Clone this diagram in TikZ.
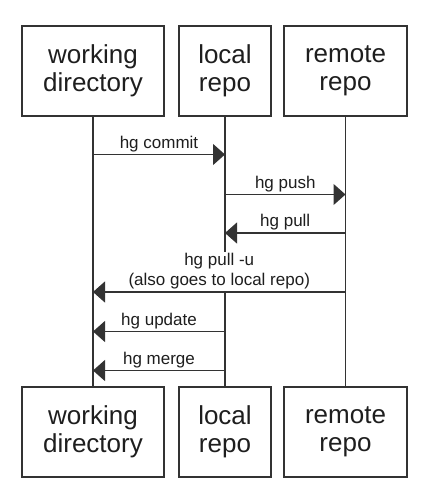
\documentclass[tikz,border=0pt]{standalone}
\usepackage{fontspec}
\setmainfont{Liberation Sans}
\usetikzlibrary{arrows.meta, positioning}
\definecolor{linegray}{RGB}{51,51,51}
\definecolor{textgray}{RGB}{30,30,30}

\begin{document}
\begin{tikzpicture}[x=1pt, y=1pt,
    repobox/.style={draw=linegray, line width=1.4pt, minimum height=90pt, inner sep=0pt, align=center, text=textgray, font=\fontsize{26}{28.5}\selectfont},
    lifeline/.style={draw=linegray, line width=1.2pt},
    msg/.style={lifeline, -{Triangle[length=12pt, width=21pt]}},
    msglabel/.style={above, fill=white, inner sep=2pt, align=center, text=textgray, font=\fontsize{17}{20}\selectfont}]
    % Define dimensions
    \def\toprow{-71}
    \def\bottomrow{-432}
    
    % Fix the canvas size
    \useasboundingbox (0,0) rectangle (435,-503);
    
    % Boxes in the top row and the bottom row
    \foreach \pos/\row in {top/\toprow, bot/\bottomrow} {
        \node[repobox, minimum width=142pt] (wd\pos) at (93,\row) {working\\directory};
        \node[repobox, minimum width=92pt] (lr\pos) at (225,\row) {local\\repo};
        \node[repobox, minimum width=123pt] (rr\pos) at (345.5,\row) {remote\\repo};
    }
    
    % Lifelines between the two rows
    \foreach \n in {wd, lr, rr}
        \draw[lifeline] (\n top.south) -- (\n bot.north);
    
    % Messages with their labels
    \foreach \src/\dst/\y/\txt [count=\i] in {wd/lr/154.5/hg commit, lr/rr/194.5/hg push, rr/lr/233/hg pull, rr/wd/292/{hg pull -u\\(also goes to local repo)}, lr/wd/331.5/hg update, lr/wd/370.5/hg merge} {
        \coordinate (m\i a) at (\src top.south |- 0,-\y);
        \coordinate (m\i b) at (\dst top.south |- 0,-\y);
        \draw[msg] (m\i a) -- node[msglabel] {\txt} (m\i b);
    }
\end{tikzpicture}
\end{document}
